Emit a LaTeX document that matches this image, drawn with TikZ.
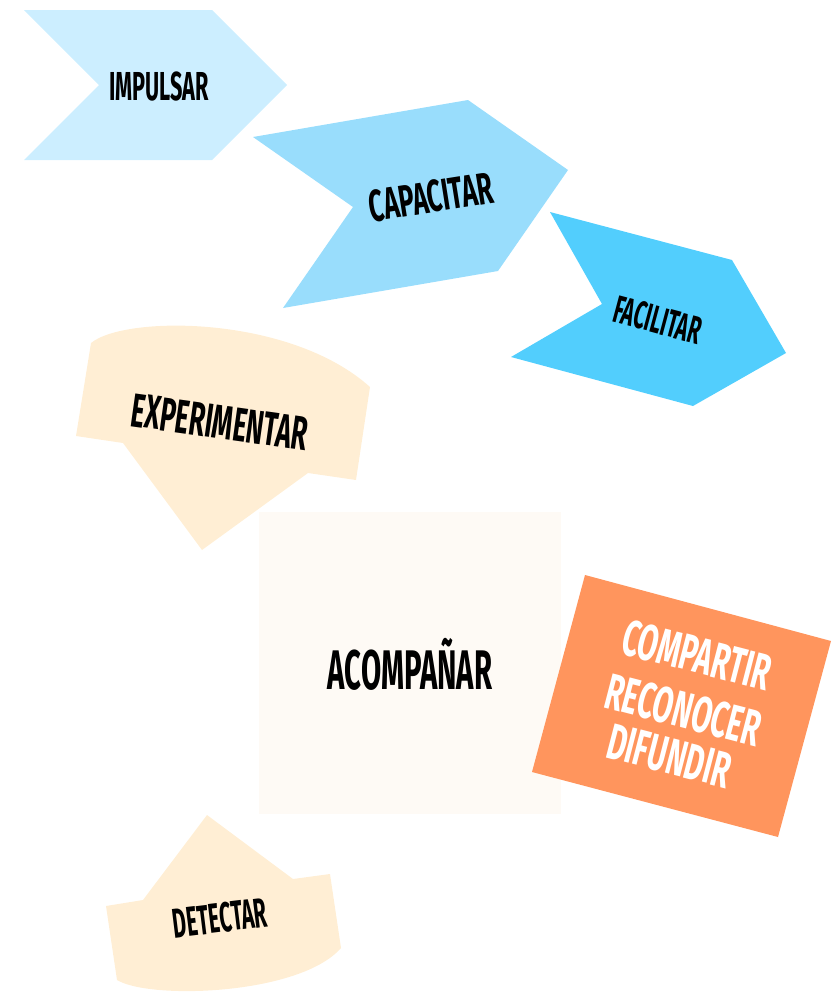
\documentclass[tikz,border=0pt]{standalone}
\usepackage{fontspec}
\usepackage{graphicx}
\newfontfamily\cond{Fira Sans}
\newcommand{\sq}[2]{\scalebox{#1}[1]{#2}}
\definecolor{cImp}{HTML}{CCEEFF}
\definecolor{cCap}{HTML}{99DDFC}
\definecolor{cFac}{HTML}{52CEFD}
\definecolor{cBeige}{HTML}{FFEED4}
\definecolor{cAcomp}{HTML}{FEFAF5}
\definecolor{cOrange}{HTML}{FF955D}
\begin{document}
\begin{tikzpicture}[x=1bp,y=-1bp,
  lbl/.style={text=black, inner sep=0pt},
  wlbl/.style={text=white, inner sep=0pt, anchor=base west, rotate=-14.5,
    font=\cond\bfseries\fontsize{51}{52}\selectfont}]
\useasboundingbox (0,0) rectangle (839,992);
% shapes
\fill[cImp] (24,10) -- (212,10) -- (287,85) -- (212,160) -- (24,160) -- (99,85) -- cycle;
\fill[cCap] (253,137) -- (468,100) -- (568,170) -- (498,271) -- (283,308) -- (353,207) -- cycle;
\fill[cFac] (550,212) -- (732,260) -- (786,353) -- (693,406) -- (511,357) -- (602,304) -- cycle;
\fill[cBeige] (91,343) .. controls (125,315) and (290,315) .. (370,387) -- (356,480) -- (308,473) -- (202,550) -- (123,443) -- (76,436) -- cycle;
\fill[cAcomp] (259,512) rectangle (561,814);
\fill[cOrange] (585,575) -- (831,641) -- (778,837) -- (532,772) -- cycle;
\fill[cBeige] (207,815) -- (293,879) -- (330,874) -- (341,948) .. controls (300,995) and (150,1000) .. (117,980) -- (106,906) -- (143,900) -- cycle;
% labels
\node[lbl, font=\cond\bfseries\fontsize{40.6}{40}\selectfont] (impulsar) at (159,86) {\sq{0.536}{IMPULSAR}};
\node[lbl, font=\cond\bfseries\fontsize{45}{45}\selectfont, rotate=9] (capacitar) at (431,197) {\sq{0.575}{CAPACITAR}};
\node[lbl, font=\cond\bfseries\fontsize{39}{39}\selectfont, rotate=-15] (facilitar) at (658,320) {\sq{0.524}{FACILITAR}};
\node[lbl, font=\cond\bfseries\fontsize{48}{48}\selectfont, rotate=-8] (experimentar) at (220,422) {\sq{0.545}{EXPERIMENTAR}};
\node[lbl, font=\cond\bfseries\fontsize{56}{56}\selectfont] (acompanar) at (410,664) {\sq{0.525}{ACOMPAÑAR}};
\node[wlbl] (compartir) at (619,653) {\sq{0.575}{COMPARTIR}};
\node[wlbl] (reconocer) at (602,707) {\sq{0.575}{RECONOCER}};
\node[wlbl] (difundir) at (604,757) {\sq{0.575}{DIFUNDIR}};
\node[lbl, font=\cond\bfseries\fontsize{42}{42}\selectfont, rotate=7] (detectar) at (220,918) {\sq{0.503}{DETECTAR}};
\end{tikzpicture}
\end{document}
